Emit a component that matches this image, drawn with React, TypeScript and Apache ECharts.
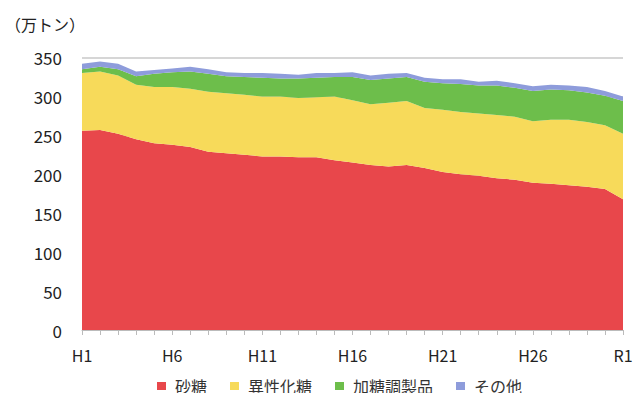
import React, { useEffect, useRef } from "react";
import * as echarts from "echarts";

const years = [
  "H1", "H2", "H3", "H4", "H5", "H6", "H7", "H8", "H9", "H10",
  "H11", "H12", "H13", "H14", "H15", "H16", "H17", "H18", "H19", "H20",
  "H21", "H22", "H23", "H24", "H25", "H26", "H27", "H28", "H29", "H30", "R1",
];

const sugar = [
  256, 257, 252, 245, 240, 238, 235, 229, 227, 225,
  223, 223, 222, 222, 218, 215, 212, 210, 212, 208,
  203, 200, 198, 195, 193, 189, 188, 186, 184, 181, 168,
];

const hfcs = [
  74, 75, 75, 70, 72, 74, 75, 77, 77, 77,
  77, 77, 76, 77, 82, 80, 78, 82, 82, 77,
  80, 80, 80, 81, 81, 79, 82, 84, 83, 82, 84,
];

const prepared = [
  5, 6, 8, 11, 17, 19, 22, 23, 22, 23,
  24, 23, 25, 25, 25, 30, 31, 31, 31, 34,
  34, 36, 36, 38, 37, 39, 39, 38, 38, 38, 42,
];

const others = [
  7, 7, 7, 6, 5, 5, 6, 6, 5, 5,
  6, 6, 5, 6, 5, 6, 6, 6, 5, 5,
  5, 6, 5, 6, 6, 6, 6, 6, 7, 6, 6,
];

const seriesNames = ["砂糖", "異性化糖", "加糖調製品", "その他"];
const colors = ["#E8474B", "#F7DA5A", "#6DBE4B", "#8E9CDB"];
const yTicks = { min: 0, max: 350, interval: 50 };
const unitLabel = "（万トン）";

const FONT = "'Noto Sans CJK JP', 'Noto Sans', sans-serif";

export default function App() {
  const ref = useRef<HTMLDivElement>(null);

  useEffect(() => {
    if (!ref.current) return;
    const chart = echarts.init(ref.current, null, { renderer: "svg" });
    const data = [sugar, hfcs, prepared, others];
    chart.setOption({
      animation: false,
      backgroundColor: "#ffffff",
      textStyle: { fontFamily: FONT },
      grid: { left: 82, right: 19, top: 57.5, bottom: 71 },
      graphic: [
        {
          type: "text",
          left: 5,
          top: 16,
          style: {
            text: unitLabel,
            fontSize: 16,
            fontFamily: FONT,
            fill: "#222",
          },
        },
      ],
      legend: {
        left: 152,
        top: 373,
        itemWidth: 9,
        itemHeight: 8,
        itemGap: 23,
        icon: "rect",
        textStyle: {
          fontSize: 16,
          color: "#333",
          fontFamily: FONT,
          padding: [0, 0, 0, 4],
        },
        data: seriesNames,
      },
      xAxis: {
        type: "category",
        data: years,
        boundaryGap: false,
        axisLine: { show: true, lineStyle: { color: "#bbbbbb", width: 1 } },
        axisTick: {
          show: true,
          interval: 0,
          length: 5,
          lineStyle: { color: "#bbbbbb" },
        },
        axisLabel: {
          interval: 4,
          fontSize: 16,
          color: "#222",
          margin: 17,
          fontFamily: FONT,
        },
      },
      yAxis: {
        type: "value",
        min: yTicks.min,
        max: yTicks.max,
        interval: yTicks.interval,
        axisLine: { show: false },
        axisTick: { show: false },
        axisLabel: { fontSize: 17, color: "#222", margin: 20, fontFamily: FONT },
        splitLine: { show: true, lineStyle: { color: "#c8c8c8", width: 1.5 } },
      },
      series: seriesNames.map((name, i) => ({
        name,
        type: "line",
        stack: "total",
        data: data[i],
        showSymbol: false,
        symbol: "none",
        lineStyle: { width: 0 },
        itemStyle: { color: colors[i] },
        areaStyle: { color: colors[i], opacity: 1 },
        z: 2,
      })),
    });
    return () => chart.dispose();
  }, []);

  return <div ref={ref} style={{ width: 642, height: 401, margin: "-8px" }} />;
}
